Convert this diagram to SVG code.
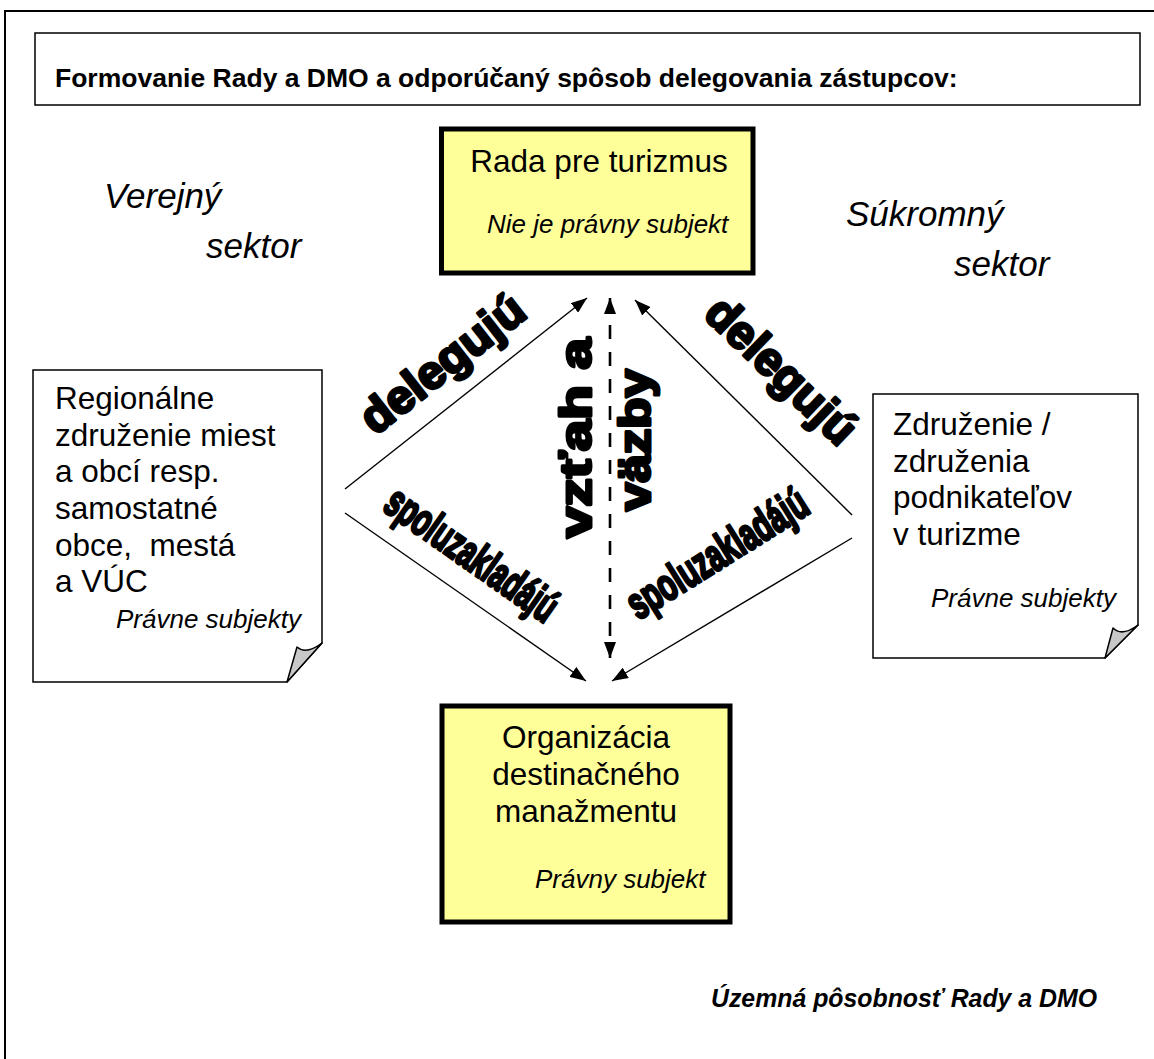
<svg xmlns="http://www.w3.org/2000/svg" width="1154" height="1059" viewBox="0 0 1154 1059">
  <defs>
    <style>
      .frame { fill: none; stroke: #000; stroke-width: 2; }
      .box { fill: #fff; stroke: #000; stroke-width: 1.5; }
      .yellow { fill: #FFFF99; stroke: #000; stroke-width: 5; }
      .curl { fill: #C8C8C8; stroke: #000; stroke-width: 1.5; stroke-linejoin: round; }
      .t { font-family: "Liberation Sans", Arial, sans-serif; fill: #000; }
      .main { font-size: 31.5px; }
      .sub { font-size: 26px; font-style: italic; }
      .sector { font-size: 35px; font-style: italic; }
      .title { font-size: 26.5px; font-weight: bold; }
      .foot { font-size: 25.5px; font-weight: bold; font-style: italic; }
      .heavy { font-family: "Liberation Sans", Arial, sans-serif; font-weight: bold; fill: #000; stroke: #000; stroke-width: 3; stroke-linejoin: round; }
      .arrow { fill: none; stroke: #000; stroke-width: 1.4; }
      .dash { fill: none; stroke: #000; stroke-width: 2.6; stroke-dasharray: 14 13; }
    </style>
    <marker id="ah" viewBox="0 0 16 12" refX="16" refY="6" markerWidth="16" markerHeight="12" markerUnits="userSpaceOnUse" orient="auto-start-reverse">
      <path d="M0,0 L16,6 L0,12 Z" fill="#000"/>
    </marker>
  </defs>

  <path class="frame" d="M5,1059 V11 H1154"/>

  <g id="title">
    <rect class="box" x="35" y="33" width="1105" height="72"/>
    <text class="t title" x="55" y="87">Formovanie Rady a DMO a odporúčaný spôsob delegovania zástupcov:</text>
  </g>

  <g id="sector-public">
    <text class="t sector" x="104" y="208">Verejný</text>
    <text class="t sector" x="206" y="258">sektor</text>
  </g>
  <g id="sector-private">
    <text class="t sector" x="846" y="226">Súkromný</text>
    <text class="t sector" x="954" y="276">sektor</text>
  </g>

  <g id="rada">
    <rect class="yellow" x="441.5" y="129" width="311.5" height="144"/>
    <text class="t main" x="599" y="172" text-anchor="middle">Rada pre turizmus</text>
    <text class="t sub" x="487" y="233">Nie je právny subjekt</text>
  </g>

  <g id="dmo">
    <rect class="yellow" x="442" y="706" width="288" height="216"/>
    <text class="t main" x="586" y="748" text-anchor="middle">Organizácia</text>
    <text class="t main" x="586" y="785" text-anchor="middle">destinačného</text>
    <text class="t main" x="586" y="822" text-anchor="middle">manažmentu</text>
    <text class="t sub" x="535" y="888">Právny subjekt</text>
  </g>

  <g id="verejne">
    <path class="box" d="M33,370 H322 V643 L287,682 H33 Z"/>
    <path class="curl" d="M322,643 Q306,655 297,647 L287,682 Z"/>
    <text class="t main" x="55" y="409">Regionálne</text>
    <text class="t main" x="55" y="446">združenie miest</text>
    <text class="t main" x="55" y="482">a obcí resp.</text>
    <text class="t main" x="55" y="519">samostatné</text>
    <text class="t main" x="55" y="556" xml:space="preserve">obce,  mestá</text>
    <text class="t main" x="55" y="592">a VÚC</text>
    <text class="t sub" x="116" y="628">Právne subjekty</text>
  </g>

  <g id="sukromne">
    <path class="box" d="M873,394 H1138 V625 L1105,658 H873 Z"/>
    <path class="curl" d="M1138,625 Q1122,637 1113,628 L1105,658 Z"/>
    <text class="t main" x="893" y="435">Združenie /</text>
    <text class="t main" x="893" y="472">združenia</text>
    <text class="t main" x="893" y="508">podnikateľov</text>
    <text class="t main" x="893" y="545">v turizme</text>
    <text class="t sub" x="931" y="607">Právne subjekty</text>
  </g>

  <g id="connectors">
    <line class="arrow" x1="345" y1="489" x2="587" y2="298" marker-end="url(#ah)"/>
    <line class="arrow" x1="345" y1="513" x2="586" y2="681" marker-end="url(#ah)"/>
    <line class="arrow" x1="852" y1="515" x2="635" y2="300" marker-end="url(#ah)"/>
    <line class="arrow" x1="852" y1="538" x2="612" y2="681" marker-end="url(#ah)"/>
    <line class="dash" x1="610" y1="298" x2="610" y2="658" marker-start="url(#ah)" marker-end="url(#ah)"/>
  </g>

  <g id="labels">
    <text class="heavy" font-size="47" transform="translate(442,363) rotate(-38)" text-anchor="middle" dominant-baseline="central" textLength="195" lengthAdjust="spacingAndGlyphs">delegujú</text>
    <text class="heavy" font-size="47" transform="translate(782,370) rotate(44)" text-anchor="middle" dominant-baseline="central" textLength="190" lengthAdjust="spacingAndGlyphs">delegujú</text>
    <text class="heavy" font-size="45" transform="translate(472,554) rotate(35)" text-anchor="middle" dominant-baseline="central" textLength="200" lengthAdjust="spacingAndGlyphs">spoluzakladájú</text>
    <text class="heavy" font-size="45" transform="translate(717,553) rotate(-32)" text-anchor="middle" dominant-baseline="central" textLength="205" lengthAdjust="spacingAndGlyphs">spoluzakladájú</text>
    <text class="heavy" font-size="45" transform="translate(591,438) rotate(-90)" text-anchor="middle" textLength="200" lengthAdjust="spacingAndGlyphs">vzťah a</text>
    <text class="heavy" font-size="45" transform="translate(650,440) rotate(-90)" text-anchor="middle" textLength="142" lengthAdjust="spacingAndGlyphs">väzby</text>
  </g>

  <g id="footer">
    <text class="t foot" x="711" y="1007" textLength="386" lengthAdjust="spacingAndGlyphs">Územná pôsobnosť Rady a DMO</text>
  </g>
</svg>
